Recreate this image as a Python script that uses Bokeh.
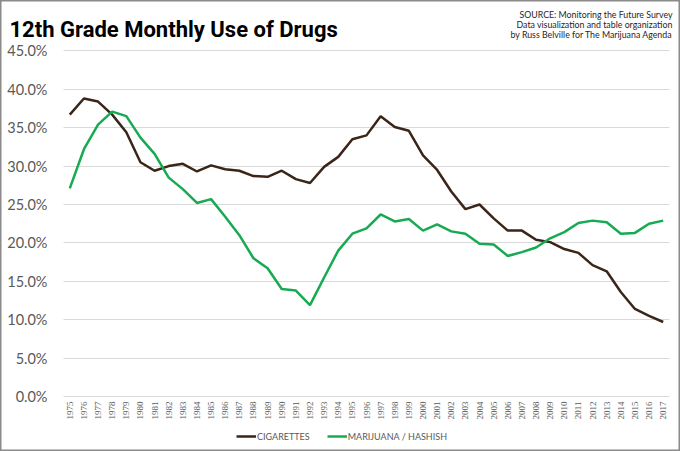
from bokeh.plotting import figure
from bokeh.models import (Range1d, FixedTicker, PrintfTickFormatter, Legend, LegendItem, Label)
from bokeh.embed import file_html
from bokeh.resources import INLINE
from math import pi

# ---- data ----
years = list(range(1975, 2018))
cigarettes = [36.7, 38.8, 38.4, 36.7, 34.4, 30.5, 29.4, 30.0, 30.3, 29.3,
              30.1, 29.6, 29.4, 28.7, 28.6, 29.4, 28.3, 27.8, 29.9, 31.2,
              33.5, 34.0, 36.5, 35.1, 34.6, 31.4, 29.5, 26.7, 24.4, 25.0,
              23.2, 21.6, 21.6, 20.4, 20.1, 19.2, 18.7, 17.1, 16.3, 13.6,
              11.4, 10.5, 9.7]
marijuana = [27.1, 32.2, 35.4, 37.1, 36.5, 33.7, 31.6, 28.5, 27.0, 25.2,
             25.7, 23.4, 21.0, 18.0, 16.7, 14.0, 13.8, 11.9, 15.5, 19.0,
             21.2, 21.9, 23.7, 22.8, 23.1, 21.6, 22.4, 21.5, 21.2, 19.9,
             19.8, 18.3, 18.8, 19.4, 20.6, 21.4, 22.6, 22.9, 22.7, 21.2,
             21.3, 22.5, 22.9]
y_ticks = [0, 5, 10, 15, 20, 25, 30, 35, 40, 45]
series_names = ["CIGARETTES", "MARIJUANA / HASHISH"]
title_text = "12th Grade Monthly Use of Drugs"
source_lines = ["SOURCE: Monitoring the Future Survey",
                "Data visualization and table organization",
                "by Russ Belville for The Marijuana Agenda"]

BROWN = "#3b2518"
GREEN = "#17aa52"
GRAY_TXT = "#595959"

W, H = 680, 451
# layout (page pixels)
PX_FIRST, PX_LAST = 69.3, 662.7      # x of first / last year
PY_ZERO, PY_TOP = 396.0, 50.4        # y of 0% / 45%
ppx = (PX_LAST - PX_FIRST) / (years[-1] - years[0])
ppy = (PY_ZERO - PY_TOP) / (y_ticks[-1] - y_ticks[0])
x0 = years[0] - PX_FIRST / ppx
x1 = years[-1] + (W - PX_LAST) / ppx
y0 = -(H - PY_ZERO) / ppy
y1 = PY_ZERO / ppy

def xd(px):
    return x0 + px / ppx

def yd(py):
    return y0 + (H - py) / ppy

p = figure(width=W, height=H, output_backend="svg", toolbar_location=None,
           x_range=Range1d(x0, x1), y_range=Range1d(y0, y1),
           min_border=0)
p.outline_line_color = "#8a8a8a"
p.outline_line_width = 2
p.background_fill_color = "white"
p.border_fill_color = "white"

r1 = p.line(years, cigarettes, line_color=BROWN, line_width=2.5)
r2 = p.line(years, marijuana, line_color=GREEN, line_width=2.5)

grid_lo, grid_hi = xd(63), xd(669)

p.xgrid.grid_line_color = None
p.ygrid.ticker = FixedTicker(ticks=y_ticks)
p.ygrid.grid_line_color = "#d9d9d9"
p.ygrid.grid_line_width = 1.2
p.ygrid.cross_bounds = (grid_lo, grid_hi)

p.yaxis.fixed_location = grid_lo
p.yaxis.ticker = FixedTicker(ticks=y_ticks)
p.yaxis.formatter = PrintfTickFormatter(format="%.1f%%")
p.yaxis.axis_line_color = None
p.yaxis.major_tick_line_color = None
p.yaxis.minor_tick_line_color = None
p.yaxis.major_tick_out = 0
p.yaxis.major_tick_in = 0
p.yaxis.major_label_standoff = 16
p.yaxis.major_label_text_font = "Lato"
p.yaxis.major_label_text_font_size = "14.5px"
p.yaxis.major_label_text_color = GRAY_TXT

p.xaxis.fixed_location = 0
p.xaxis.ticker = FixedTicker(ticks=years)
p.xaxis.major_label_orientation = pi / 2
p.xaxis.axis_line_color = None
p.xaxis.major_tick_line_color = None
p.xaxis.minor_tick_line_color = None
p.xaxis.major_tick_out = 0
p.xaxis.major_tick_in = 0
p.xaxis.major_label_standoff = 5
p.xaxis.major_label_text_font = "Liberation Serif"
p.xaxis.major_label_text_font_size = "9px"
p.xaxis.major_label_text_color = GRAY_TXT

legend = Legend(items=[LegendItem(label=series_names[0], renderers=[r1]),
                       LegendItem(label=series_names[1], renderers=[r2])],
                orientation="horizontal", location=(236, 8),
                label_text_font="Lato", label_text_font_size="9px",
                label_text_color=GRAY_TXT, glyph_width=20, glyph_height=14,
                label_height=14, label_standoff=1, spacing=17, padding=0, margin=0,
                background_fill_alpha=0, border_line_color=None)
p.add_layout(legend, "center")

p.add_layout(Label(x=xd(9), y=yd(29), text=title_text, text_font="Roboto",
                   text_font_style="bold", text_font_size="22px",
                   text_color="#000000", text_baseline="alphabetic"))
for i, line in enumerate(source_lines):
    p.add_layout(Label(x=xd(672), y=yd(14 + 10 * i), text=line, text_font="Lato",
                       text_font_size="8.8px", text_color="#262626",
                       text_align="right", text_baseline="middle"))

open("out.html", "w").write(file_html(p, INLINE))
